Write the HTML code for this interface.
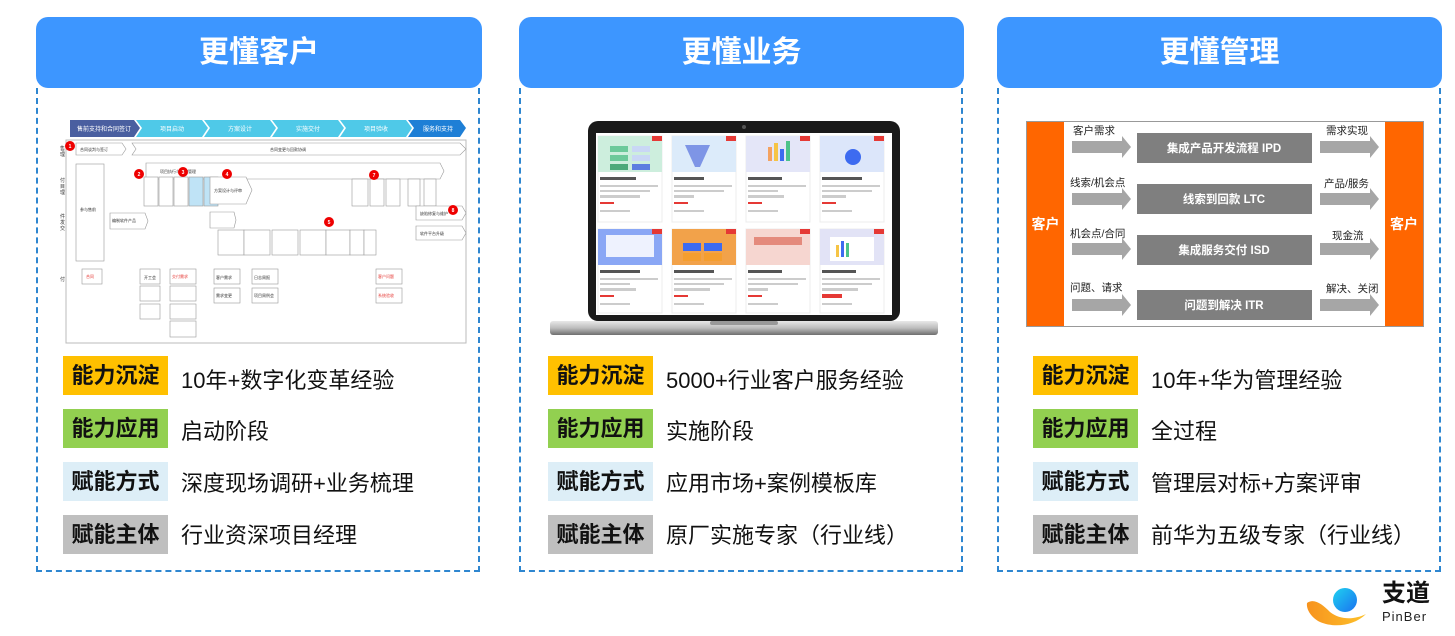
<!DOCTYPE html><html><head><meta charset="utf-8"><style>
*{margin:0;padding:0;box-sizing:border-box}
body{width:1455px;height:636px;background:#fff;position:relative;overflow:hidden;font-family:"Liberation Sans","Noto Sans CJK SC",sans-serif}
.hd{position:absolute;top:17px;height:71px;background:#3D96FF;border-radius:12px;color:#fff;font-size:30px;font-weight:bold;text-align:center;line-height:71px}
.pn{position:absolute;top:88px;height:484px;border:2px dashed #2E86D0;border-top:none}
.tag{position:absolute;width:105px;height:39px;font-size:22px;font-weight:bold;color:#111;text-align:center;line-height:39px}
.tx{position:absolute;font-size:22px;color:#111;line-height:39px}
.y{background:#FFC000}.g{background:#92D050}.b{background:#DDEEF7}.s{background:#BFBFBF}
</style></head><body>
<div class="hd" style="left:36px;width:446px">更懂客户</div>
<div class="hd" style="left:519px;width:445px">更懂业务</div>
<div class="hd" style="left:997px;width:445px">更懂管理</div>
<div class="pn" style="left:36px;width:444px"></div>
<div class="pn" style="left:519px;width:444px"></div>
<div class="pn" style="left:997px;width:444px"></div>

<!-- left diagram -->
<svg style="position:absolute;left:60px;top:116px" width="410" height="230" font-family="Liberation Sans,Noto Sans CJK SC,sans-serif">
<rect x="6" y="24" width="400" height="203" fill="#fff" stroke="#bbb"/>
<polygon points="10,4 74,4 80,12 74,21 10,21" fill="#4A5FA0"/>
<polygon points="76,4 142,4 148,12 142,21 76,21 82,12" fill="#4FC9E8"/>
<polygon points="144,4 210,4 216,12 210,21 144,21 150,12" fill="#4FC9E8"/>
<polygon points="212,4 278,4 284,12 278,21 212,21 218,12" fill="#4FC9E8"/>
<polygon points="280,4 346,4 352,12 346,21 280,21 286,12" fill="#4FC9E8"/>
<polygon points="348,4 400,4 406,12 400,21 348,21 354,12" fill="#1E7FD6"/>
<g font-size="6" fill="#fff" text-anchor="middle"><text x="44" y="15">售前支持和合同签订</text><text x="112" y="15">项目启动</text><text x="180" y="15">方案设计</text><text x="248" y="15">实施交付</text><text x="316" y="15">项目验收</text><text x="378" y="15">服务和支持</text></g>
<g font-size="5" fill="#333"><text x="-5" y="34">销售</text><text x="-5" y="40">管理</text><text x="-5" y="66">交付</text><text x="-5" y="72">项目</text><text x="-5" y="78">管理</text><text x="-5" y="102">软件</text><text x="-5" y="108">开发</text><text x="-5" y="114">与交</text><text x="-5" y="120">付</text><text x="-5" y="165">交付</text><text x="-5" y="171">件</text></g>
<g fill="#fff" stroke="#999" stroke-width="0.6">
<polygon points="16,27 62,27 66,33 62,39 16,39"/><polygon points="72,27 400,27 406,33 400,39 72,39 76,33"/>
<polygon points="86,47 380,47 384,55 380,63 86,63"/>
<rect x="16" y="48" width="28" height="97"/><polygon points="50,97 85,97 88,105 85,113 50,113"/>
<rect x="84" y="61" width="14" height="29"/><rect x="99" y="61" width="14" height="29"/><rect x="114" y="61" width="14" height="29"/>
<rect x="129" y="61" width="14" height="29" fill="#BFE3F6"/><rect x="144" y="61" width="14" height="29" fill="#BFE3F6"/>
<polygon points="150,61 186,61 192,74 186,88 150,88"/>
<rect x="292" y="63" width="16" height="27"/><rect x="310" y="63" width="14" height="27"/><rect x="326" y="63" width="14" height="27"/><rect x="348" y="63" width="12" height="27"/><rect x="364" y="63" width="12" height="27"/>
<polygon points="150,96 174,96 176,104 174,112 150,112"/>
<rect x="158" y="114" width="26" height="25"/><rect x="184" y="114" width="26" height="25"/><rect x="212" y="114" width="26" height="25"/><rect x="240" y="114" width="26" height="25"/><rect x="266" y="114" width="24" height="25"/><rect x="290" y="114" width="14" height="25"/><rect x="304" y="114" width="12" height="25"/>
<polygon points="356,90 402,90 406,97 402,104 356,104"/><polygon points="356,110 402,110 406,117 402,124 356,124"/>
<rect x="22" y="153" width="20" height="15"/><rect x="80" y="153" width="20" height="15"/><rect x="80" y="170" width="20" height="15"/><rect x="80" y="188" width="20" height="15"/>
<rect x="110" y="153" width="26" height="15"/><rect x="110" y="170" width="26" height="15"/><rect x="110" y="188" width="26" height="15"/><rect x="110" y="205" width="26" height="16"/>
<rect x="154" y="153" width="26" height="15"/><rect x="154" y="172" width="26" height="15"/><rect x="192" y="153" width="26" height="15"/><rect x="192" y="172" width="26" height="15"/>
<rect x="316" y="153" width="26" height="15"/><rect x="316" y="172" width="26" height="15"/></g>
<g font-size="4" fill="#333"><text x="20" y="35">合同谈判与签订</text><text x="210" y="35">合同变更与回款协调</text><text x="100" y="57">项目执行与监控管理</text><text x="154" y="76">方案设计与评审</text><text x="20" y="95">参与售前</text><text x="52" y="106">编制软件产品</text><text x="360" y="99">缺陷修复与维护</text><text x="360" y="119">软件平台升级</text>
<text x="84" y="163">开工会</text><text x="156" y="163">客户需求</text><text x="194" y="163">日志周报</text><text x="156" y="181">需求变更</text><text x="194" y="181">项目周例会</text></g>
<g font-size="4" fill="#E53935"><text x="26" y="162">合同</text><text x="112" y="162">交付需求</text><text x="318" y="162">客户问题</text><text x="318" y="181">系统验收</text></g>
<g fill="#E00"><circle cx="10" cy="30" r="5"/><circle cx="79" cy="58" r="5"/><circle cx="123" cy="56" r="5"/><circle cx="167" cy="58" r="5"/><circle cx="269" cy="106" r="5"/><circle cx="314" cy="59" r="5"/><circle cx="393" cy="94" r="5"/></g>
<g font-size="5" fill="#fff" text-anchor="middle" font-weight="bold"><text x="10" y="32">1</text><text x="79" y="60">2</text><text x="123" y="58">3</text><text x="167" y="60">4</text><text x="269" y="108">5</text><text x="314" y="61">7</text><text x="393" y="96">8</text></g>
</svg>

<!-- laptop -->
<svg style="position:absolute;left:540px;top:115px" width="400" height="230">
<defs><linearGradient id="sv" x1="0" y1="0" x2="0" y2="1"><stop offset="0" stop-color="#e8e8e8"/><stop offset="0.5" stop-color="#bdbdbd"/><stop offset="1" stop-color="#6e6e6e"/></linearGradient></defs>
<rect x="48" y="6" width="312" height="200" rx="10" fill="#1a1a1a"/>
<rect x="56" y="18" width="296" height="182" fill="#fff"/>
<circle cx="204" cy="12" r="2" fill="#555"/>
<g fill="#fff" stroke="#ececec" stroke-width="1">
<rect x="58" y="21" width="64" height="86"/><rect x="132" y="21" width="64" height="86"/><rect x="206" y="21" width="64" height="86"/><rect x="280" y="21" width="64" height="86"/>
<rect x="58" y="114" width="64" height="84"/><rect x="132" y="114" width="64" height="84"/><rect x="206" y="114" width="64" height="84"/><rect x="280" y="114" width="64" height="84"/></g>
<g>
<rect x="58" y="21" width="64" height="36" fill="#CDEEDD"/><rect x="132" y="21" width="64" height="36" fill="#DCEBFA"/><rect x="206" y="21" width="64" height="36" fill="#E4E6F8"/><rect x="280" y="21" width="64" height="36" fill="#DCE6FA"/>
<rect x="58" y="114" width="64" height="36" fill="#8AA7F5"/><rect x="132" y="114" width="64" height="36" fill="#F2A24A"/><rect x="206" y="114" width="64" height="36" fill="#F6D6D0"/><rect x="280" y="114" width="64" height="36" fill="#E2E3F6"/>
<rect x="70" y="31" width="18" height="6" fill="#6CC99A"/><rect x="92" y="31" width="18" height="6" fill="#C9D7F5"/><rect x="70" y="40" width="18" height="6" fill="#6CC99A"/><rect x="92" y="40" width="18" height="6" fill="#C9D7F5"/><rect x="70" y="49" width="18" height="6" fill="#4CA97A"/><rect x="92" y="49" width="18" height="6" fill="#5C7DE0"/>
<polygon points="145,30 170,30 160,52 155,52" fill="#7E95E6"/>
<rect x="228" y="32" width="4" height="14" fill="#F4A261"/><rect x="234" y="28" width="4" height="18" fill="#F6C445"/><rect x="240" y="34" width="4" height="12" fill="#3D6BF0"/><rect x="246" y="26" width="4" height="20" fill="#4CC38A"/>
<circle cx="313" cy="42" r="8" fill="#3D6BF0"/>
<rect x="66" y="120" width="48" height="22" fill="#fff" opacity="0.85"/>
<rect x="143" y="128" width="18" height="8" fill="#3D6BF0"/><rect x="164" y="128" width="18" height="8" fill="#3D6BF0"/><rect x="143" y="138" width="18" height="8" fill="#F59E2E"/><rect x="164" y="138" width="18" height="8" fill="#F59E2E"/>
<rect x="214" y="122" width="48" height="8" fill="#E48A7C"/>
<rect x="290" y="122" width="44" height="24" fill="#fff"/><rect x="296" y="130" width="3" height="12" fill="#F6C445"/><rect x="301" y="126" width="3" height="16" fill="#3D6BF0"/><rect x="306" y="128" width="3" height="14" fill="#4CC38A"/>
</g>
<g fill="#E53935"><rect x="112" y="21" width="10" height="5"/><rect x="186" y="21" width="10" height="5"/><rect x="260" y="21" width="10" height="5"/><rect x="334" y="21" width="10" height="5"/><rect x="112" y="114" width="10" height="5"/><rect x="186" y="114" width="10" height="5"/><rect x="260" y="114" width="10" height="5"/><rect x="334" y="114" width="10" height="5"/>
<rect x="60" y="87" width="14" height="2"/><rect x="134" y="87" width="14" height="2"/><rect x="208" y="87" width="14" height="2"/><rect x="282" y="87" width="14" height="2"/><rect x="60" y="180" width="14" height="2"/><rect x="134" y="180" width="14" height="2"/><rect x="208" y="180" width="14" height="2"/><rect x="282" y="179" width="20" height="4"/></g>
<g fill="#555"><rect x="60" y="62" width="36" height="3"/><rect x="134" y="62" width="30" height="3"/><rect x="208" y="62" width="34" height="3"/><rect x="282" y="62" width="40" height="3"/><rect x="60" y="155" width="40" height="3"/><rect x="134" y="155" width="40" height="3"/><rect x="208" y="155" width="34" height="3"/><rect x="282" y="155" width="34" height="3"/></g>
<g fill="#ccc"><rect x="60" y="70" width="58" height="2"/><rect x="134" y="70" width="58" height="2"/><rect x="208" y="70" width="58" height="2"/><rect x="282" y="70" width="58" height="2"/><rect x="60" y="75" width="50" height="2"/><rect x="134" y="75" width="50" height="2"/><rect x="208" y="75" width="30" height="2"/><rect x="282" y="75" width="50" height="2"/>
<rect x="60" y="80" width="40" height="3"/><rect x="134" y="80" width="20" height="3"/><rect x="208" y="80" width="36" height="3"/><rect x="282" y="80" width="24" height="3"/>
<rect x="60" y="95" width="30" height="2"/><rect x="134" y="95" width="30" height="2"/><rect x="208" y="95" width="30" height="2"/><rect x="282" y="95" width="30" height="2"/>
<rect x="60" y="163" width="58" height="2"/><rect x="134" y="163" width="58" height="2"/><rect x="208" y="163" width="58" height="2"/><rect x="282" y="163" width="58" height="2"/><rect x="60" y="168" width="30" height="2"/><rect x="134" y="168" width="50" height="2"/><rect x="208" y="168" width="50" height="2"/><rect x="282" y="168" width="50" height="2"/>
<rect x="60" y="173" width="36" height="3"/><rect x="134" y="173" width="36" height="3"/><rect x="208" y="173" width="20" height="3"/><rect x="282" y="173" width="36" height="3"/>
<rect x="60" y="188" width="30" height="2"/><rect x="134" y="188" width="30" height="2"/><rect x="208" y="188" width="30" height="2"/><rect x="282" y="188" width="30" height="2"/></g>
<rect x="10" y="206" width="388" height="14" rx="3" fill="url(#sv)"/>
<rect x="170" y="206" width="68" height="4" rx="2" fill="#999"/>
</svg>

<!-- right diagram -->
<div style="position:absolute;left:1026px;top:121px;width:398px;height:206px;border:1px solid #999;background:#fff"></div>
<div style="position:absolute;left:1027px;top:122px;width:37px;height:204px;background:#FF6600;color:#fff;font-weight:bold;font-size:14px;line-height:204px;text-align:center">客户</div>
<div style="position:absolute;left:1385px;top:122px;width:38px;height:204px;background:#FF6600;color:#fff;font-weight:bold;font-size:14px;line-height:204px;text-align:center">客户</div>
<svg style="position:absolute;left:1026px;top:121px" width="398" height="206" font-family="Liberation Sans,Noto Sans CJK SC,sans-serif">
<g fill="#A6A6A6">
<polygon points="46,20 96,20 96,15 105,26 96,37 96,32 46,32"/><polygon points="294,20 344,20 344,15 353,26 344,37 344,32 294,32"/>
<polygon points="46,72 96,72 96,67 105,78 96,89 96,84 46,84"/><polygon points="294,72 344,72 344,67 353,78 344,89 344,84 294,84"/>
<polygon points="46,122 96,122 96,117 105,128 96,139 96,134 46,134"/><polygon points="294,122 344,122 344,117 353,128 344,139 344,134 294,134"/>
<polygon points="46,178 96,178 96,173 105,184 96,195 96,190 46,190"/><polygon points="294,178 344,178 344,173 353,184 344,195 344,190 294,190"/></g>
<g fill="#7F7F7F"><rect x="111" y="12" width="175" height="30"/><rect x="111" y="63" width="175" height="30"/><rect x="111" y="114" width="175" height="30"/><rect x="111" y="169" width="175" height="30"/></g>
<g fill="#fff" font-size="11.5" font-weight="bold" text-anchor="middle"><text x="198" y="31">集成产品开发流程  IPD</text><text x="198" y="82">线索到回款  LTC</text><text x="198" y="133">集成服务交付  ISD</text><text x="198" y="188">问题到解决  ITR</text></g>
<g fill="#222" font-size="10.5"><text x="47" y="13">客户需求</text><text x="44" y="65">线索/机会点</text><text x="44" y="116">机会点/合同</text><text x="44" y="170">问题、请求</text>
<text x="300" y="13">需求实现</text><text x="298" y="66">产品/服务</text><text x="306" y="118">现金流</text><text x="300" y="171">解决、关闭</text></g>
</svg>

<!-- tags -->
<div class="tag y" style="left:63px;top:356px">能力沉淀</div><div class="tx" style="left:181px;top:361px">10年+数字化变革经验</div>
<div class="tag g" style="left:63px;top:409px">能力应用</div><div class="tx" style="left:181px;top:412px">启动阶段</div>
<div class="tag b" style="left:63px;top:462px">赋能方式</div><div class="tx" style="left:181px;top:464px">深度现场调研+业务梳理</div>
<div class="tag s" style="left:63px;top:515px">赋能主体</div><div class="tx" style="left:181px;top:516px">行业资深项目经理</div>

<div class="tag y" style="left:548px;top:356px">能力沉淀</div><div class="tx" style="left:666px;top:361px">5000+行业客户服务经验</div>
<div class="tag g" style="left:548px;top:409px">能力应用</div><div class="tx" style="left:666px;top:412px">实施阶段</div>
<div class="tag b" style="left:548px;top:462px">赋能方式</div><div class="tx" style="left:666px;top:464px">应用市场+案例模板库</div>
<div class="tag s" style="left:548px;top:515px">赋能主体</div><div class="tx" style="left:666px;top:516px">原厂实施专家（行业线）</div>

<div class="tag y" style="left:1033px;top:356px">能力沉淀</div><div class="tx" style="left:1151px;top:361px">10年+华为管理经验</div>
<div class="tag g" style="left:1033px;top:409px">能力应用</div><div class="tx" style="left:1151px;top:412px">全过程</div>
<div class="tag b" style="left:1033px;top:462px">赋能方式</div><div class="tx" style="left:1151px;top:464px">管理层对标+方案评审</div>
<div class="tag s" style="left:1033px;top:515px">赋能主体</div><div class="tx" style="left:1151px;top:516px">前华为五级专家（行业线）</div>

<!-- logo -->
<svg style="position:absolute;left:1300px;top:578px" width="80" height="50">
<defs><linearGradient id="lb" x1="0" y1="0" x2="1" y2="1"><stop offset="0" stop-color="#1FD1F0"/><stop offset="1" stop-color="#1A73F0"/></linearGradient>
<linearGradient id="lo" x1="0" y1="0" x2="1" y2="0"><stop offset="0" stop-color="#F7931E"/><stop offset="1" stop-color="#FDC12A"/></linearGradient></defs>
<circle cx="45" cy="22" r="12" fill="url(#lb)"/>
<path d="M7,25 C14,20 22,26 30,34 C40,42 54,42 66,36 C54,48 34,50 20,44 C12,40 6,32 7,25 Z" fill="url(#lo)"/>
</svg>
<div style="position:absolute;left:1382px;top:580px;font-size:24px;font-weight:bold;color:#111;line-height:28px">支道</div>
<div style="position:absolute;left:1382px;top:609px;font-size:13px;color:#222;letter-spacing:1px">PinBer</div>
</body></html>
